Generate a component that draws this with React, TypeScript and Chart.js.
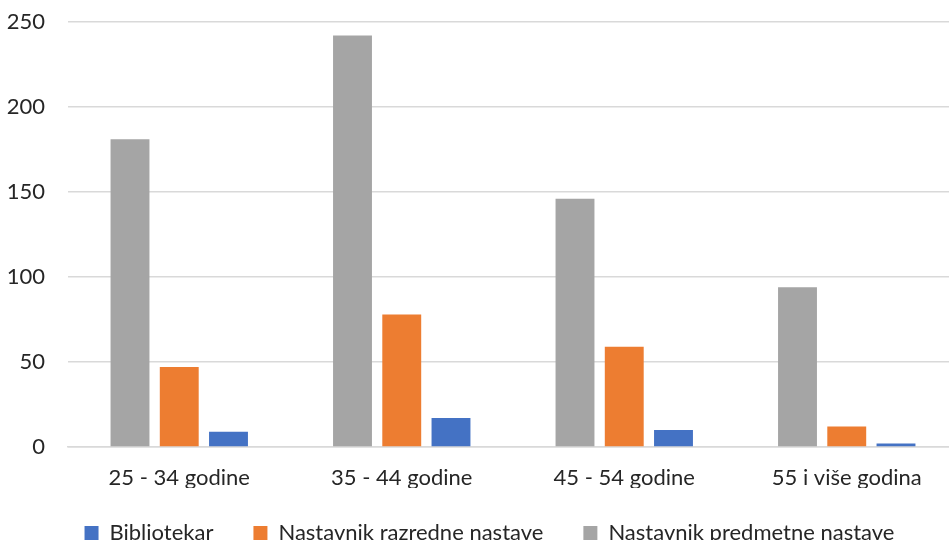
import React, { useEffect, useRef } from "react";
import { Chart, registerables } from "chart.js";

Chart.register(...registerables);

const categories = ["25 - 34 godine", "35 - 44 godine", "45 - 54 godine", "55 i više godina"];
const predmetne = [181, 242, 146, 94];
const razredne = [47, 78, 59, 12];
const bibliotekar = [9, 17, 10, 2];
const yTicks = [0, 50, 100, 150, 200, 250];

const FONT = "Lato";
const TEXT = "#262626";
const LEGEND_PAD = 40;

const legendShift = {
  id: "legendShift",
  afterLayout(chart: any) {
    const lg = chart.legend;
    if (!lg) return;
    lg.right = 979;
    const h = lg.bottom - lg.top;
    lg.top = 533 - 11 - LEGEND_PAD;
    lg.bottom = lg.top + h;
  },
};

export default function App() {
  const ref = useRef<HTMLCanvasElement | null>(null);

  useEffect(() => {
    if (!ref.current) return;
    const chart = new Chart(ref.current, {
      type: "bar",
      data: {
        labels: categories,
        datasets: [
          { label: "Nastavnik predmetne nastave", data: predmetne, backgroundColor: "#a5a5a5" },
          { label: "Nastavnik razredne nastave", data: razredne, backgroundColor: "#ed7d31" },
          { label: "Bibliotekar", data: bibliotekar, backgroundColor: "#4472c4" },
        ],
      },
      plugins: [legendShift],
      options: {
        responsive: false,
        animation: false,
        layout: { padding: { left: 0, right: 21, top: 22, bottom: 0 } },
        datasets: { bar: { categoryPercentage: 0.664, barPercentage: 0.79 } },
        plugins: {
          tooltip: { enabled: false },
          legend: {
            position: "bottom",
            reverse: true,
            labels: {
              font: { family: FONT, size: 22 },
              color: TEXT,
              boxWidth: 14,
              boxHeight: 14,
              padding: LEGEND_PAD,
            },
          },
        },
        scales: {
          x: {
            afterFit: (s: any) => {
              s.height = 41;
              s.paddingLeft = 0;
              s.paddingRight = 0;
            },
            grid: { display: false, drawTicks: false },
            border: { display: true, color: "#d9d9d9", width: 1.5 },
            ticks: { font: { family: FONT, size: 22 }, color: TEXT, padding: 18 },
          },
          y: {
            min: 0,
            max: 250,
            afterBuildTicks: (s: any) => {
              s.ticks = yTicks.map((v) => ({ value: v }));
            },
            afterFit: (s: any) => {
              s.width = 68;
              s.paddingTop = 0;
              s.paddingBottom = 0;
            },
            grid: { color: "#d9d9d9", lineWidth: 1.5, drawTicks: false },
            border: { display: false },
            ticks: { font: { family: FONT, size: 22 }, color: TEXT, padding: 23 },
          },
        },
      },
    });
    return () => chart.destroy();
  }, []);

  return (
    <div style={{ position: "fixed", left: 0, top: 0, width: 949, height: 540, overflow: "hidden", background: "#fff" }}>
      <canvas ref={ref} width={979} height={560} style={{ width: 979, height: 560, display: "block" }} />
    </div>
  );
}
